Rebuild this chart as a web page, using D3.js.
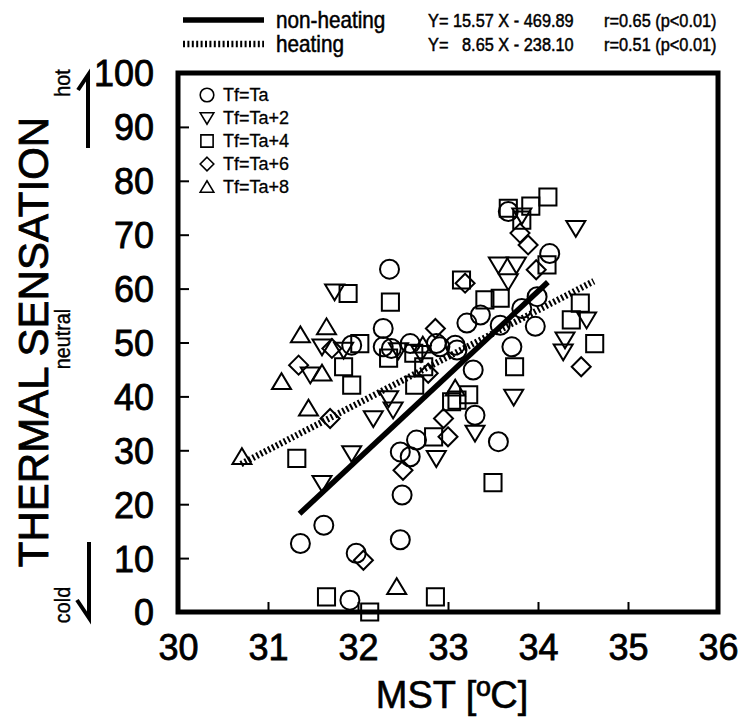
<!DOCTYPE html>
<html>
<head>
<meta charset="utf-8">
<script src="https://cdn.jsdelivr.net/npm/d3@7/dist/d3.min.js"></script>
<style>
  html, body { margin: 0; padding: 0; background: #fff; }
  svg { display: block; }
  text { font-family: "Liberation Sans", Arial, Helvetica, sans-serif; fill: #000; }
</style>
</head>
<body>
<svg id="chart" width="743" height="721"></svg>
<script>
// Mean skin temperature (MST, °C) vs. thermal sensation vote, by foot-temperature condition
const xTicks = [30, 31, 32, 33, 34, 35, 36];
const yTicks = [0, 10, 20, 30, 40, 50, 60, 70, 80, 90, 100];

const seriesNames = ["Tf=Ta", "Tf=Ta+2", "Tf=Ta+4", "Tf=Ta+6", "Tf=Ta+8"];

// [MST, thermal sensation]
const tfTa = [
  [32.35, 63.6], [32.28, 52.6], [31.93, 49.5], [32.28, 49.2], [32.37, 48.9],
  [32.58, 49.8], [32.87, 49.8], [32.91, 49.2], [33.08, 49.5], [33.10, 48.6],
  [32.65, 31.9], [32.47, 29.7], [32.58, 28.8], [31.62, 16.1], [31.36, 12.7],
  [32.49, 21.7], [32.47, 13.4], [31.98, 10.9], [31.91, 2.2], [33.67, 74.3],
  [34.13, 66.5], [33.99, 58.5], [33.82, 56.3], [33.36, 55.1], [33.21, 53.6],
  [33.58, 53.2], [33.97, 53.0], [33.71, 49.2], [33.28, 44.9], [33.30, 36.5],
  [33.56, 31.6]
];
const tfTa2 = [
  [31.74, 59.4], [31.60, 49.2], [31.84, 48.6], [31.47, 44.0], [32.34, 39.6],
  [32.39, 37.5], [32.17, 35.9], [32.87, 28.5], [31.93, 29.4], [31.60, 23.9],
  [33.82, 73.5], [34.42, 71.2], [33.56, 64.4], [33.76, 64.4], [33.67, 61.3],
  [34.54, 54.2], [34.30, 50.5], [34.28, 48.3], [33.73, 39.9], [33.30, 33.2],
  [32.45, 48.5], [32.70, 48.0]
];
const tfTa4 = [
  [31.89, 59.1], [32.36, 57.5], [33.15, 61.6], [32.02, 49.8], [32.34, 47.1],
  [31.84, 45.5], [31.93, 42.1], [32.73, 45.5], [32.63, 42.1], [33.10, 39.3],
  [32.84, 32.5], [31.32, 28.5], [31.65, 2.8], [32.13, 0.0], [32.86, 2.8],
  [33.50, 24.0], [34.11, 77.0], [33.92, 75.3], [33.67, 74.9], [33.82, 72.7],
  [34.10, 64.4], [33.41, 57.9], [33.58, 58.2], [34.47, 57.3], [34.37, 54.2],
  [34.63, 49.8], [33.74, 45.5], [33.23, 40.3], [33.04, 39.0], [32.62, 48.0]
];
const tfTa6 = [
  [32.86, 52.6], [31.71, 48.9], [31.34, 45.8], [32.78, 44.3], [31.69, 35.9],
  [32.95, 35.9], [33.00, 32.5], [32.50, 26.3], [32.06, 9.6], [33.80, 70.3],
  [33.89, 68.1], [33.98, 63.5], [33.19, 61.0], [34.48, 45.5]
];
const tfTa8 = [
  [31.36, 51.4], [31.65, 52.9], [31.60, 44.3], [31.15, 42.7], [31.45, 37.8],
  [30.71, 28.8], [32.43, 4.7], [33.08, 41.5], [32.72, 49.5]
];

// Regression fits: Y = slope * X + intercept, drawn over each fit's MST range
const fitNames = ["non-heating", "heating"];
const fitSlopes = [15.57, 8.65];
const fitIntercepts = [-469.89, -238.10];
const fitRanges = [[31.35, 34.11], [30.70, 34.62]];
const fitEquations = ["Y= 15.57 X - 469.89", "Y=   8.65 X - 238.10"];
const fitStats = ["r=0.65 (p<0.01)", "r=0.51 (p<0.01)"];

const svg = d3.select("#chart");

const x = d3.scaleLinear().domain([30, 36]).range([178, 718]);
const y = d3.scaleLinear().domain([0, 100]).range([612, 73]);

// Marker glyphs (outline only); s = half-size of the glyph
function markerPath(kind, s) {
  const p = d3.path();
  if (kind === "circle") {
    p.moveTo(s, 0); p.arc(0, 0, s, 0, 2 * Math.PI);
  } else if (kind === "down") {
    const h = s * 0.9;
    p.moveTo(-s, -h * 0.85); p.lineTo(s, -h * 0.85); p.lineTo(0, h); p.closePath();
  } else if (kind === "up") {
    const h = s * 0.9;
    p.moveTo(-s, h * 0.85); p.lineTo(s, h * 0.85); p.lineTo(0, -h); p.closePath();
  } else if (kind === "square") {
    p.rect(-s * 0.9, -s * 0.9, s * 1.8, s * 1.8);
  } else if (kind === "diamond") {
    p.moveTo(0, -s); p.lineTo(s, 0); p.lineTo(0, s); p.lineTo(-s, 0); p.closePath();
  }
  return p.toString();
}

const series = [
  { name: seriesNames[0], kind: "circle", data: tfTa },
  { name: seriesNames[1], kind: "down", data: tfTa2 },
  { name: seriesNames[2], kind: "square", data: tfTa4 },
  { name: seriesNames[3], kind: "diamond", data: tfTa6 },
  { name: seriesNames[4], kind: "up", data: tfTa8 }
];

// Axes: ticks point into the plot, labels sit outside
const xAxis = d3.axisBottom(x).tickValues(xTicks).tickFormat(d3.format("d"))
  .tickSizeInner(-10).tickSizeOuter(0).tickPadding(22);
const yAxis = d3.axisLeft(y).tickValues(yTicks).tickFormat(d3.format("d"))
  .tickSizeInner(-11).tickSizeOuter(0).tickPadding(24);

const gx = svg.append("g").attr("transform", `translate(0,${y(0)})`).call(xAxis);
const gy = svg.append("g").attr("transform", `translate(${x(30)},0)`).call(yAxis);
[gx, gy].forEach(g => {
  g.select(".domain").remove();
  g.selectAll(".tick line").attr("stroke", "#000").attr("stroke-width", 2);
  g.selectAll(".tick text").attr("font-size", 36).attr("fill", "#000")
    .attr("stroke", "#000").attr("stroke-width", 0.8)
    .attr("font-family", "'Liberation Sans', Arial, sans-serif");
});
gy.selectAll(".tick text").attr("dy", "0.36em");
gx.selectAll(".tick text").attr("dy", "0.72em");

// Scatter points
const plot = svg.append("g");
series.forEach(s => {
  plot.append("g").selectAll("path").data(s.data).join("path")
    .attr("transform", d => `translate(${x(d[0])},${y(d[1])})`)
    .attr("d", markerPath(s.kind, 9.5))
    .attr("fill", "none").attr("stroke", "#000").attr("stroke-width", 2);
});

// Regression lines
const fitStyles = [
  { width: 5.5, dash: null },
  { width: 6.5, dash: "2,2.4" }
];
fitNames.forEach((n, i) => {
  const pts = fitRanges[i].map(v => [v, fitSlopes[i] * v + fitIntercepts[i]]);
  plot.append("path")
    .attr("d", d3.line().x(d => x(d[0])).y(d => y(d[1]))(pts))
    .attr("fill", "none").attr("stroke", "#000")
    .attr("stroke-width", fitStyles[i].width)
    .attr("stroke-dasharray", fitStyles[i].dash);
});

// Frame
svg.append("rect")
  .attr("x", x(30)).attr("y", y(100))
  .attr("width", x(36) - x(30)).attr("height", y(0) - y(100))
  .attr("fill", "none").attr("stroke", "#000").attr("stroke-width", 5);

// Inner legend for foot-temperature conditions
const leg = svg.append("g").attr("transform", `translate(${x(30) + 29},${y(100) + 22})`);
series.forEach((s, i) => {
  const row = leg.append("g").attr("transform", `translate(0,${i * 23})`);
  row.append("path").attr("d", markerPath(s.kind, 6.8))
    .attr("fill", "none").attr("stroke", "#000").attr("stroke-width", 1.6);
  row.append("text").attr("x", 16).attr("dy", "0.36em")
    .attr("font-size", 18).attr("stroke", "#000").attr("stroke-width", 0.3)
    .text(s.name);
});

// Top legend for the two fits (condensed lettering)
const topLeg = svg.append("g");
function condensed(g, x0, y0, size, sx, str) {
  g.append("text")
    .attr("transform", `translate(${x0},${y0}) scale(${sx},1)`)
    .attr("dy", "0.36em").attr("font-size", size)
    .attr("stroke", "#000").attr("stroke-width", 0.5)
    .attr("xml:space", "preserve").style("white-space", "pre")
    .text(str);
}
fitNames.forEach((n, i) => {
  const yy = 20 + i * 24;
  topLeg.append("line")
    .attr("x1", 183).attr("x2", 264).attr("y1", yy).attr("y2", yy)
    .attr("stroke", "#000").attr("stroke-width", fitStyles[i].width)
    .attr("stroke-dasharray", fitStyles[i].dash);
  condensed(topLeg, 276, yy, 23, 0.9, n);
  condensed(topLeg, 428, yy, 19, 0.86, fitEquations[i]);
  condensed(topLeg, 604, yy, 19, 0.86, fitStats[i]);
});

// Axis titles
svg.append("text")
  .attr("transform", `translate(${x(33) + 4},708)`)
  .attr("text-anchor", "middle").attr("font-size", 38)
  .attr("stroke", "#000").attr("stroke-width", 0.6)
  .text("MST [ºC]");

svg.append("text")
  .attr("transform", "translate(48,342) rotate(-90)")
  .attr("text-anchor", "middle").attr("font-size", 42)
  .attr("stroke", "#000").attr("stroke-width", 0.8)
  .text("THERMAL SENSATION");

// Sensation anchors along the y axis
const anchors = [
  { text: "hot", y: 83 },
  { text: "neutral", y: 339 },
  { text: "cold", y: 605 }
];
anchors.forEach(a => {
  svg.append("text")
    .attr("transform", `translate(70,${a.y}) rotate(-90) scale(0.9,1)`)
    .attr("text-anchor", "middle").attr("font-size", 22)
    .attr("stroke", "#000").attr("stroke-width", 0.4)
    .text(a.text);
});

// Direction arrows beside "hot" and "cold"
svg.append("path").attr("d", "M88,148 L88,75 L78,90")
  .attr("fill", "none").attr("stroke", "#000").attr("stroke-width", 4)
  .attr("stroke-linejoin", "miter");
svg.append("path").attr("d", "M89,542 L89,618 L77,600")
  .attr("fill", "none").attr("stroke", "#000").attr("stroke-width", 4)
  .attr("stroke-linejoin", "miter");
</script>
</body>
</html>
